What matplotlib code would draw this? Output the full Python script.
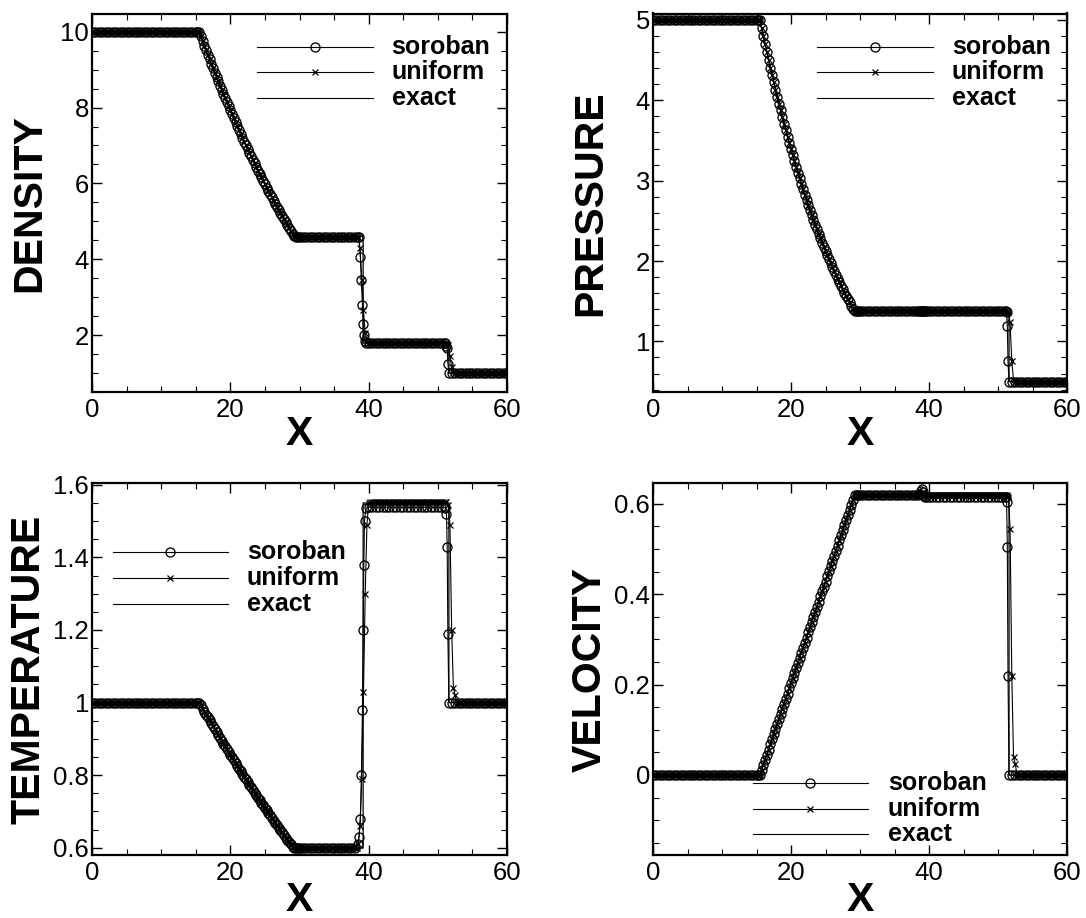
import numpy as np
import matplotlib
matplotlib.use("Agg")
import matplotlib.pyplot as plt
from matplotlib.ticker import MultipleLocator, FuncFormatter

plt.rcParams['font.family'] = ['Liberation Sans', 'DejaVu Sans']

# ---------------- data ----------------
x_grid = np.linspace(0.0, 60.0, 241)          # sampling positions, dx = 0.25

# rarefaction fan values at x = 15.5 ... 29.25
rho_fan = [10.000, 9.876, 9.753, 9.631, 9.511, 9.391, 9.272, 9.154, 9.038, 8.922,
           8.807, 8.693, 8.581, 8.469, 8.358, 8.248, 8.139, 8.031, 7.924, 7.818,
           7.713, 7.609, 7.506, 7.404, 7.302, 7.202, 7.103, 7.004, 6.906, 6.810,
           6.714, 6.619, 6.525, 6.432, 6.340, 6.248, 6.158, 6.068, 5.979, 5.892,
           5.805, 5.719, 5.633, 5.549, 5.465, 5.383, 5.301, 5.220, 5.140, 5.060,
           4.982, 4.904, 4.827, 4.751, 4.675, 4.601]
p_fan = [5.000, 4.897, 4.796, 4.696, 4.599, 4.503, 4.408, 4.315, 4.224, 4.134,
         4.046, 3.959, 3.874, 3.790, 3.708, 3.627, 3.548, 3.470, 3.393, 3.318,
         3.244, 3.171, 3.100, 3.030, 2.961, 2.893, 2.827, 2.762, 2.698, 2.636,
         2.574, 2.514, 2.454, 2.396, 2.339, 2.283, 2.229, 2.175, 2.122, 2.070,
         2.020, 1.970, 1.921, 1.873, 1.827, 1.781, 1.736, 1.692, 1.649, 1.607,
         1.565, 1.525, 1.485, 1.446, 1.408, 1.375]
T_fan = [1.000, 0.992, 0.983, 0.975, 0.967, 0.959, 0.951, 0.943, 0.935, 0.927,
         0.919, 0.911, 0.903, 0.895, 0.887, 0.880, 0.872, 0.864, 0.856, 0.849,
         0.841, 0.833, 0.826, 0.818, 0.811, 0.803, 0.796, 0.789, 0.781, 0.774,
         0.767, 0.759, 0.752, 0.745, 0.738, 0.731, 0.724, 0.717, 0.710, 0.703,
         0.696, 0.689, 0.682, 0.675, 0.668, 0.662, 0.655, 0.648, 0.642, 0.635,
         0.628, 0.622, 0.615, 0.609, 0.603, 0.599]
u_fan = [0.000, 0.011, 0.023, 0.034, 0.045, 0.056, 0.068, 0.079, 0.090, 0.101,
         0.113, 0.124, 0.135, 0.147, 0.158, 0.169, 0.180, 0.192, 0.203, 0.214,
         0.225, 0.237, 0.248, 0.259, 0.271, 0.282, 0.293, 0.304, 0.316, 0.327,
         0.338, 0.349, 0.361, 0.372, 0.383, 0.395, 0.406, 0.417, 0.428, 0.440,
         0.451, 0.462, 0.473, 0.485, 0.496, 0.507, 0.519, 0.530, 0.541, 0.552,
         0.564, 0.575, 0.586, 0.597, 0.609, 0.620]

# plateau levels: left state, behind fan, behind contact, right state
rho_exact_levels = [10.0, 4.60, 1.79, 1.0]
p_exact_levels = [5.0, 1.375, 1.375, 0.5]
T_exact_levels = [1.0, 0.599, 1.55, 1.0]
u_exact_levels = [0.0, 0.62, 0.62, 0.0]

rho_sor_levels = [10.0, 4.59, 1.79, 1.0]
p_sor_levels = [5.0, 1.375, 1.375, 0.5]
T_sor_levels = [1.0, 0.60, 1.538, 1.0]
u_sor_levels = [0.0, 0.619, 0.616, 0.0]

rho_uni_levels = [10.0, 4.60, 1.79, 1.0]
p_uni_levels = [5.0, 1.375, 1.375, 0.5]
T_uni_levels = [1.0, 0.60, 1.553, 1.0]
u_uni_levels = [0.0, 0.62, 0.62, 0.0]

# exact discontinuities
exact_cd_x = [39.2, 39.2]
exact_sh_x = [51.6, 51.6]

# soroban (adaptive grid): coarse spacing in the flat states, fine in the fan
sor_fine_range = [15.0, 29.75]
sor_coarse_step = 0.5

# soroban points across the contact and the shock
sor_cd_x = [38.4, 38.6, 38.8, 38.95, 39.1, 39.2, 39.3, 39.4, 39.6]
rho_sor_cd = [4.60, 4.58, 4.05, 3.45, 2.80, 2.30, 2.00, 1.85, 1.80]
p_sor_cd = [1.375, 1.375, 1.375, 1.375, 1.375, 1.375, 1.375, 1.375, 1.375]
T_sor_cd = [0.61, 0.63, 0.68, 0.80, 0.98, 1.20, 1.38, 1.50, 1.535]
u_sor_cd = [0.619, 0.622, 0.628, 0.632, 0.625, 0.619, 0.617, 0.616, 0.616]

sor_sh_x = [51.1, 51.25, 51.35, 51.45, 51.6]
rho_sor_sh = [1.79, 1.72, 1.65, 1.25, 1.0]
p_sor_sh = [1.375, 1.36, 1.19, 0.75, 0.5]
T_sor_sh = [1.535, 1.52, 1.43, 1.19, 1.0]
u_sor_sh = [0.614, 0.605, 0.505, 0.22, 0.0]

# uniform-grid points across the contact and the shock
uni_cd_x = [38.25, 38.5, 38.75, 39.0, 39.25, 39.5, 39.75, 40.0]
rho_uni_cd = [4.60, 4.58, 4.30, 3.45, 2.65, 2.05, 1.82, 1.79]
p_uni_cd = [1.375, 1.375, 1.375, 1.375, 1.375, 1.375, 1.375, 1.375]
T_uni_cd = [0.60, 0.61, 0.66, 0.79, 1.03, 1.30, 1.49, 1.55]
u_uni_cd = [0.62, 0.62, 0.62, 0.62, 0.62, 0.62, 0.62, 0.62]

uni_sh_x = [51.25, 51.5, 51.75, 52.0, 52.25, 52.5]
rho_uni_sh = [1.79, 1.75, 1.45, 1.15, 1.02, 1.0]
p_uni_sh = [1.375, 1.36, 1.24, 0.75, 0.52, 0.5]
T_uni_sh = [1.553, 1.545, 1.49, 1.20, 1.04, 1.02]
u_uni_sh = [0.62, 0.615, 0.545, 0.22, 0.04, 0.025]

series_labels = ['soroban', 'uniform', 'exact']
y_titles = ['DENSITY', 'PRESSURE', 'TEMPERATURE', 'VELOCITY']
x_title = 'X'


def build(levels, fan, cd_x, cd_y, sh_x, sh_y, coarse=False):
    left, s3, s2, right = levels
    y = np.array([left] * 62 + list(fan) + [s3] * 39 + [s2] * 50 + [right] * 34, float)
    keep = np.ones(x_grid.size, bool)
    for px in (cd_x, sh_x):
        keep &= ~((x_grid >= px[0] - 1e-9) & (x_grid <= px[-1] + 1e-9))
    if coarse:
        on_coarse = np.isclose(np.mod(x_grid, sor_coarse_step), 0) | \
            np.isclose(np.mod(x_grid, sor_coarse_step), sor_coarse_step)
        in_fine = (x_grid >= sor_fine_range[0]) & (x_grid <= sor_fine_range[1])
        keep &= (on_coarse | in_fine)
    xs = np.concatenate([x_grid[keep], cd_x, sh_x])
    ys = np.concatenate([y[keep], cd_y, sh_y])
    o = np.argsort(xs, kind='stable')
    return xs[o], ys[o]


panels = [
    dict(fan=rho_fan, ex=rho_exact_levels, so=rho_sor_levels, un=rho_uni_levels,
         so_cd=rho_sor_cd, so_sh=rho_sor_sh, un_cd=rho_uni_cd, un_sh=rho_uni_sh,
         ylim=(0.5, 10.48), major=2, minor=0.5),
    dict(fan=p_fan, ex=p_exact_levels, so=p_sor_levels, un=p_uni_levels,
         so_cd=p_sor_cd, so_sh=p_sor_sh, un_cd=p_uni_cd, un_sh=p_uni_sh,
         ylim=(0.37, 5.08), major=1, minor=0.2),
    dict(fan=T_fan, ex=T_exact_levels, so=T_sor_levels, un=T_uni_levels,
         so_cd=T_sor_cd, so_sh=T_sor_sh, un_cd=T_uni_cd, un_sh=T_uni_sh,
         ylim=(0.58, 1.605), major=0.2, minor=0.05),
    dict(fan=u_fan, ex=u_exact_levels, so=u_sor_levels, un=u_uni_levels,
         so_cd=u_sor_cd, so_sh=u_sor_sh, un_cd=u_uni_cd, un_sh=u_uni_sh,
         ylim=(-0.177, 0.646), major=0.2, minor=0.05),
]

# ---------------- layout ----------------
W, H = 1086, 918
fig = plt.figure(figsize=(W / 100, H / 100), dpi=100)
boxes = [(92, 13.5, 507, 392), (653, 13.5, 1067, 392),
         (92, 483, 507, 855), (653, 483, 1067, 855)]
legend_pos = [
    (0.397, 0.676, 0.722, [0.912, 0.845, 0.777]),
    (0.397, 0.676, 0.722, [0.912, 0.845, 0.777]),
    (0.050, 0.328, 0.373, [0.8145, 0.745, 0.675]),
    (0.2415, 0.519, 0.567, [0.193, 0.124, 0.0565]),
]
xlabel_y = [-0.112, -0.112, -0.122, -0.122]

fmt = FuncFormatter(lambda v, pos: ('%g' % round(v, 6)))
circ = dict(marker='o', ms=6.5, mfc='none', mec='black', mew=0.95)
cross = dict(marker='x', ms=4.2, mec='black', mew=0.9)

for i, (pan, box) in enumerate(zip(panels, boxes)):
    l, t, r, b = box
    ax = fig.add_axes([l / W, 1 - b / H, (r - l) / W, (b - t) / H])

    xe, ye = build(pan['ex'], pan['fan'], exact_cd_x,
                   [pan['ex'][1], pan['ex'][2]], exact_sh_x,
                   [pan['ex'][2], pan['ex'][3]])
    xs, ys = build(pan['so'], pan['fan'], sor_cd_x, pan['so_cd'], sor_sh_x,
                   pan['so_sh'], coarse=True)
    xu, yu = build(pan['un'], pan['fan'], uni_cd_x, pan['un_cd'], uni_sh_x, pan['un_sh'])

    ax.plot(xs, ys, color='black', lw=0.8, **circ)
    ax.plot(xu, yu, color='black', lw=0.8, **cross)
    ax.plot(xe, ye, color='black', lw=0.9)

    ax.set_xlim(0, 60)
    ax.set_ylim(*pan['ylim'])
    ax.xaxis.set_major_locator(MultipleLocator(20))
    ax.xaxis.set_minor_locator(MultipleLocator(5))
    ax.yaxis.set_major_locator(MultipleLocator(pan['major']))
    ax.yaxis.set_minor_locator(MultipleLocator(pan['minor']))
    ax.xaxis.set_major_formatter(fmt)
    ax.yaxis.set_major_formatter(fmt)
    ax.tick_params(which='both', direction='in', top=True, right=True, labelsize=18.5)
    ax.tick_params(which='major', length=7, width=1.0)
    ax.tick_params(which='minor', length=4, width=0.8)
    ax.tick_params(axis='x', pad=4)
    ax.tick_params(axis='y', pad=2)
    for s in ax.spines.values():
        s.set_linewidth(1.6)

    ax.set_ylabel(y_titles[i], fontsize=29.5, fontweight='bold')
    ax.yaxis.set_label_coords(-0.152, 0.5)
    ax.yaxis.label.set_va('center')
    ax.set_xlabel(x_title, fontsize=29.5, fontweight='bold')
    ax.xaxis.set_label_coords(0.5, xlabel_y[i])
    ax.xaxis.label.set_va('center')

    # legend drawn by hand
    x0, x1, xt, rows = legend_pos[i]
    xm = 0.5 * (x0 + x1)
    styles = [circ, cross, dict(marker=None)]
    for lab, yy, st in zip(series_labels, rows, styles):
        ax.plot([x0, xm, x1], [yy, yy, yy], color='black', lw=0.8,
                transform=ax.transAxes, clip_on=False, markevery=[1], **st)
        ax.text(xt, yy, lab, transform=ax.transAxes, fontsize=18,
                fontweight='bold', va='center', ha='left')

fig.savefig('out.png', dpi=100)
